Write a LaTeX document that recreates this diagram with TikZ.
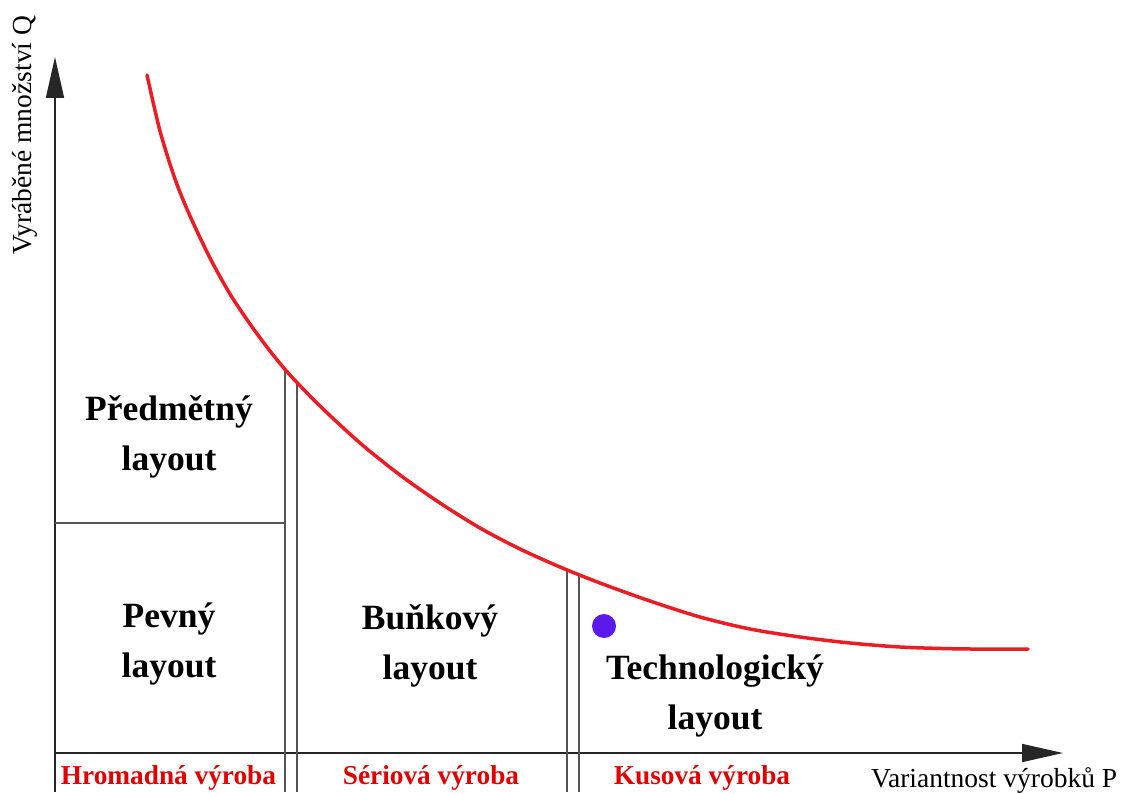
\documentclass[tikz,border=0pt]{standalone}
\usepackage{fontspec}
\setmainfont{Liberation Serif}
\usetikzlibrary{arrows.meta}
\definecolor{curvered}{RGB}{235,28,36}
\definecolor{labelred}{RGB}{225,0,0}
\definecolor{dotblue}{RGB}{91,26,235}
\definecolor{linegray}{RGB}{85,85,85}
\begin{document}
\begin{tikzpicture}[x=1pt,y=-1pt,
  axis/.style={draw=black!85, line width=1.6pt},
  divider/.style={draw=linegray, line width=1.5pt},
  curve/.style={draw=curvered, line width=3.5pt},
  zone/.style={font=\bfseries\fontsize{35.5}{50}\selectfont, align=center, anchor=base, inner sep=0pt},
  prod/.style={font=\bfseries\fontsize{27.3}{30}\selectfont, text=labelred, anchor=base, inner sep=0pt},
  axlabel/.style={font=\fontsize{27.5}{30}\selectfont, inner sep=0pt},
  arrowtip/.style={-{Triangle[length=41pt,width=18pt]}}
]
\useasboundingbox (0,0) rectangle (1121,794);
% axes
\coordinate (O) at (55,753);
\coordinate (Ytop) at (55,57);
\coordinate (Ybot) at (55,792);
\coordinate (Xend) at (1063,753);
\draw[axis, arrowtip] (Ybot) -- (Ytop);
\draw[axis, arrowtip] (O) -- (Xend);
% dividers
\coordinate (d1t) at (285,371);
\coordinate (d1b) at (285,792);
\coordinate (d2t) at (297,382);
\coordinate (d2b) at (297,792);
\coordinate (d3t) at (567,569);
\coordinate (d3b) at (567,792);
\coordinate (d4t) at (579,574);
\coordinate (d4b) at (579,792);
\coordinate (hl) at (55,523);
\coordinate (hr) at (285,523);
\draw[divider] (d1t) -- (d1b);
\draw[divider] (d2t) -- (d2b);
\draw[divider] (d3t) -- (d3b);
\draw[divider] (d4t) -- (d4b);
\draw[divider] (hl) -- (hr);
% curve
\draw[curve, line cap=round] plot[smooth, tension=0.5] coordinates {(147,75) (160,131) (175,179) (190,216) (210,258) (230,294) (250,324) (270,351) (290,375) (320,406) (360,443) (400,475) (440,503) (480,528) (520,549) (560,567) (600,583) (650,601) (700,617) (750,629) (800,637) (850,643) (900,647) (950,648.7) (1000,649.2) (1028,649)};
% dot
\node[circle, fill=dotblue, minimum size=24pt, inner sep=0pt] (dot) at (604,626) {};
% zone labels
\node[zone] (pred) at (169,470) {Předmětný\\layout};
\node[zone] (pevny) at (169,677) {Pevný\\layout};
\node[zone] (bunk) at (430,679) {Buňkový\\layout};
\node[zone] (tech) at (715,729) {Technologický\\layout};
% production labels
\node[prod] (hrom) at (168.5,784) {Hromadná výroba};
\node[prod] (seri) at (431,784) {Sériová výroba};
\node[prod] (kus) at (702,784) {Kusová výroba};
% axis labels
\node[axlabel, anchor=base west] (xlab) at (871,787) {Variantnost výrobků P};
\node[axlabel, rotate=90] (ylab) at (25,135) {Vyráběné množství Q};
\end{tikzpicture}
\end{document}
